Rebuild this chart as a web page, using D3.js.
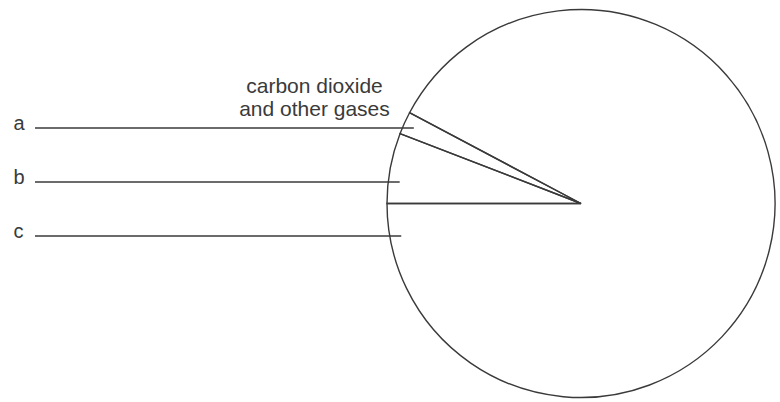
<!DOCTYPE html>
<html>
<head>
<meta charset="utf-8">
<script src="https://cdn.jsdelivr.net/npm/d3@7"></script>
<style>
  html, body { margin: 0; padding: 0; background: #fff; }
  svg { display: block; }
  text { font-family: "Liberation Sans", Arial, Helvetica, sans-serif; fill: #3a3a3a; }
</style>
</head>
<body>
<svg id="chart" width="780" height="402"></svg>
<script>
// Slices, in clockwise drawing order starting from the 9 o'clock position
const sliceKeys   = ["b", "a", "c"];
const sliceValues = [5.86, 1.89, 92.25];   // share of the circle (%)
// Label rows down the left side
const labelKeys   = ["a", "b", "c"];
const calloutLines = ["carbon dioxide", "and other gases"];

const svg = d3.select("#chart");
const cx = 581, cy = 203.5, R = 194;
const ink = "#3a3a3a";

const pie = d3.pie()
  .sort(null)
  .value(d => d.value)
  .startAngle(1.5 * Math.PI)
  .endAngle(3.5 * Math.PI);

const arcs = pie(sliceKeys.map((k, i) => ({ key: k, value: sliceValues[i] })));
const arc = d3.arc().innerRadius(0).outerRadius(R);

const g = svg.append("g").attr("transform", `translate(${cx},${cy})`);

g.selectAll("path.slice")
  .data(arcs)
  .join("path")
  .attr("class", "slice")
  .attr("d", arc)
  .attr("fill", "none")
  .attr("stroke", ink)
  .attr("stroke-width", 1.4)
  .attr("stroke-linejoin", "miter");

// label rows
const yRow = d3.scalePoint().domain(labelKeys).range([128, 236]);

const rows = svg.selectAll("g.row")
  .data(labelKeys)
  .join("g")
  .attr("class", "row");

rows.append("line")
  .attr("x1", 35)
  .attr("y1", d => yRow(d))
  .attr("x2", d => {
    const dy = yRow(d) - cy;
    return cx - Math.sqrt(R * R - dy * dy) + 11.5;
  })
  .attr("y2", d => yRow(d))
  .attr("stroke", ink)
  .attr("stroke-width", 1.3);

rows.append("text")
  .attr("x", 13.5)
  .attr("y", d => yRow(d) + 1.5)
  .attr("font-size", 20)
  .text(d => d);

// callout text
svg.append("text")
  .attr("x", 314.5)
  .attr("y", 92.5)
  .attr("text-anchor", "middle")
  .attr("font-size", 21)
  .selectAll("tspan")
  .data(calloutLines)
  .join("tspan")
  .attr("x", 314.5)
  .attr("dy", (d, i) => i === 0 ? 0 : 23.5)
  .text(d => d);
</script>
</body>
</html>
